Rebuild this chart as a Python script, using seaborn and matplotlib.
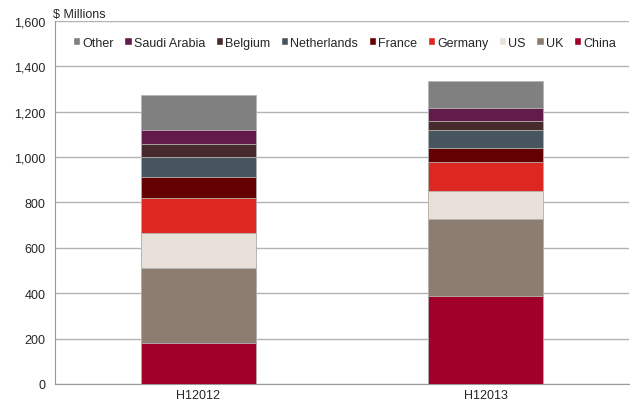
import numpy as np
import pandas as pd
import matplotlib
matplotlib.use('Agg')
import matplotlib.pyplot as plt
import seaborn as sns
from matplotlib.patches import Patch

periods = ['H12012', 'H12013']
countries = ['China', 'UK', 'US', 'Germany', 'France', 'Netherlands', 'Belgium', 'Saudi Arabia', 'Other']
china = [180, 386]
uk = [331, 343]
us = [155, 121]
germany = [155, 127]
france = [91, 63]
netherlands = [90, 77]
belgium = [57, 42]
saudi = [61, 57]
other = [154, 120]
colors = ['#A0002A', '#8C7D70', '#E8E1DA', '#DC2820', '#650000', '#47555E', '#472A2B', '#621B4A', '#808080']


def main() -> None:

    sns.set_style('white')
    plt.rcParams['font.family'] = ['Liberation Sans', 'DejaVu Sans']

    values = np.array([china, uk, us, germany, france, netherlands, belgium, saudi, other])
    tops = np.cumsum(values, axis = 0)

    fig = plt.figure(figsize = (6.3, 4.06), dpi = 100)
    ax = fig.add_axes([0.0873, 0.052, 0.911, 0.894])

    # draw cumulative totals from the top layer down so each layer covers the next
    for i in range(len(countries) - 1, -1, -1):
        df = pd.DataFrame({'period': periods, 'top': tops[i]})
        sns.barplot(data = df, x = 'period', y = 'top', color = colors[i], width = 0.4,
                    edgecolor = '#b5b5b5', linewidth = 0.6, saturation = 1, ax = ax, zorder = 3)

    ax.set_ylim(0, 1600)
    ax.set_xlim(-0.5, 1.5)
    ax.set_yticks(np.arange(0, 1601, 200))
    ax.set_yticklabels([f'{v:,}' for v in range(0, 1601, 200)], fontsize = 9)
    ax.tick_params(axis = 'y', length = 4, width = 0.8, color = '#888888', pad = 3)
    ax.tick_params(axis = 'x', which = 'major', length = 0, labelsize = 9, pad = 4)
    ax.set_xticks([-0.5, 0.5, 1.5], minor = True)
    ax.tick_params(axis = 'x', which = 'minor', length = 4, width = 0.8, color = '#888888')
    ax.set_xlabel('')
    ax.set_ylabel('')
    ax.yaxis.grid(True, color = '#b3b3b3', linewidth = 1, zorder = 0)
    ax.set_axisbelow(True)

    for side in ['top', 'right']:
        ax.spines[side].set_visible(False)
    for side in ['left', 'bottom']:
        ax.spines[side].set_color('#999999')
        ax.spines[side].set_linewidth(0.8)

    fig.text(0.084, 0.963, '$ Millions', fontsize = 9, ha = 'left', va = 'center')

    handles = [Patch(facecolor = colors[i], label = countries[i]) for i in range(len(countries) - 1, -1, -1)]
    ax.legend(handles = handles, ncol = 9, loc = 'upper center', bbox_to_anchor = (0.504, 0.97),
              frameon = False, fontsize = 9, handlelength = 0.6, handleheight = 0.6,
              handletextpad = 0.15, columnspacing = 0.85, borderaxespad = 0)

    fig.savefig('out.png', dpi = 100)


if __name__ == '__main__': main()
